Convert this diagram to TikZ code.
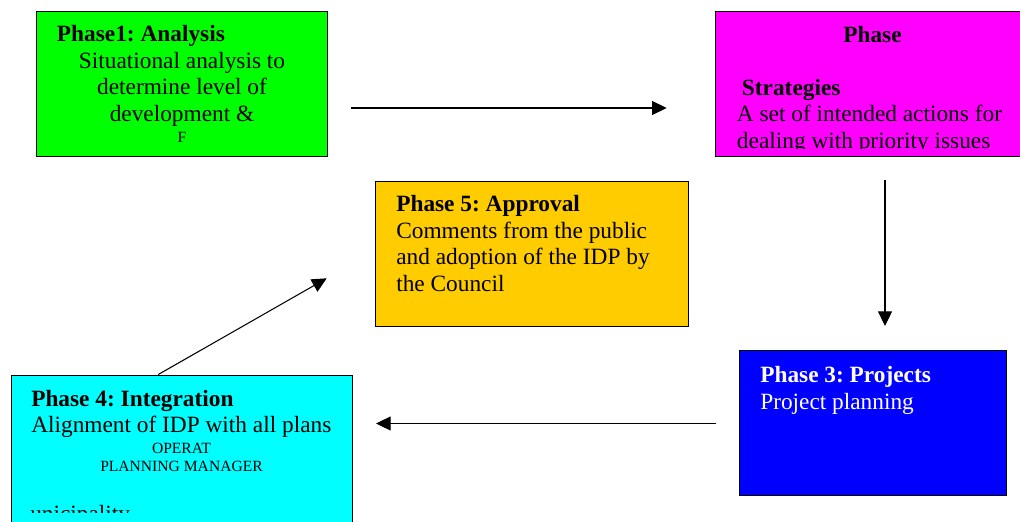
\documentclass[tikz,border=0pt]{standalone}
\usepackage{fontspec}
\setmainfont{Liberation Serif}
\usepackage{xcolor}
\definecolor{analysisgreen}{RGB}{0,255,0}
\definecolor{strategiesmagenta}{RGB}{255,0,255}
\definecolor{approvalorange}{RGB}{255,204,0}
\definecolor{projectsblue}{RGB}{0,0,255}
\definecolor{integrationcyan}{RGB}{0,255,255}
\usetikzlibrary{arrows.meta, calc}
\frenchspacing

\begin{document}
\begin{tikzpicture}[
    x=0.75pt, y=-0.75pt,
    phasebox/.style={draw=black, line width=1.1pt, anchor=north west, inner sep=0pt,
                     minimum width=#1, minimum height=108.75pt},
    title/.style={font=\fontsize{17.5}{19.9}\selectfont\bfseries, inner sep=0pt, anchor=base west},
    body/.style={font=\fontsize{17.5}{19.9}\selectfont, inner sep=0pt, align=left, anchor=base west},
    tiny/.style={font=\fontsize{11.7}{13.5}\selectfont, inner sep=0pt, align=center, anchor=base},
    arrow/.style={-{Triangle[length=11pt, width=10.5pt]}, line width=0.8pt},
]
    \clip (0,0) rectangle (1020,521);

    % phase boxes
    \node[phasebox=218.25pt, fill=analysisgreen] (analysis) at (36,11) {};
    \node[phasebox=235pt, fill=strategiesmagenta] (strategies) at (715,11) {};
    \node[phasebox=234.75pt, fill=approvalorange] (approval) at (375,181) {};
    \node[phasebox=200.25pt, fill=projectsblue] (projects) at (739,350) {};
    \node[phasebox=255.75pt, fill=integrationcyan, minimum height=112pt] (integration) at (11,375) {};

    % phase 1 (multi-line nodes sit on their last baseline)
    \node[title] (analysis-t) at ($(analysis.north west)+(20.7,30.7)$) {Phase1: Analysis};
    \node[body, align=center, anchor=base] (analysis-b) at ($(analysis.north west)+(146,110.3)$)
        {Situational analysis to\\determine level of\\development \&};
    \node[tiny] (analysis-f) at ($(analysis.north west)+(146,131)$) {F};

    % phase 2
    \node[title, anchor=base] (strategies-t) at ($(strategies.north west)+(157.5,31)$) {Phase};
    \node[title] (strategies-s) at ($(strategies.north west)+(26.7,84)$) {Strategies};
    \begin{scope}
        \clip (strategies.north west) rectangle ($(strategies.north west)+(305,137)$);
        \node[body] (strategies-b) at ($(strategies.north west)+(21.7,137)$)
            {A set of intended actions for\\dealing with priority issues};
    \end{scope}

    % phase 3
    \node[title, text=white] (projects-t) at ($(projects.north west)+(21,32.3)$) {Phase 3: Projects};
    \node[body, text=white] (projects-b) at ($(projects.north west)+(21,59)$) {Project planning};

    % phase 4
    \node[title] (integration-t) at ($(integration.north west)+(20,31.7)$) {Phase 4: Integration};
    \node[body] (integration-b) at ($(integration.north west)+(20,57.7)$) {Alignment of IDP with all plans};
    \node[tiny] (integration-m) at ($(integration.north west)+(170.5,96)$) {OPERAT\\PLANNING MANAGER};
    \begin{scope}
        \clip (integration.north west) rectangle ($(integration.north west)+(341,137.5)$);
        \node[body] (integration-u) at ($(integration.north west)+(19,146.5)$) {unicipality};
    \end{scope}

    % phase 5
    \node[title] (approval-t) at ($(approval.north west)+(21,30.7)$) {Phase 5: Approval};
    \node[body] (approval-b) at ($(approval.north west)+(21,110.3)$)
        {Comments from the public\\and adoption of the IDP by\\the Council};

    % arrow ends
    \coordinate (analysis-out) at (351,108);
    \coordinate (strategies-in) at (666.7,108);
    \coordinate (strategies-out) at (885,180);
    \coordinate (projects-in) at (885,326);
    \coordinate (projects-out) at (716,423.5);
    \coordinate (integration-in) at (376,423.5);
    \coordinate (integration-out) at (158.3,374.5);
    \coordinate (approval-in) at (326.7,278.3);

    \draw[arrow] (analysis-out) -- (strategies-in);
    \draw[arrow] (strategies-out) -- (projects-in);
    \draw[arrow] (projects-out) -- (integration-in);
    \draw[arrow] (integration-out) -- (approval-in);
\end{tikzpicture}
\end{document}
